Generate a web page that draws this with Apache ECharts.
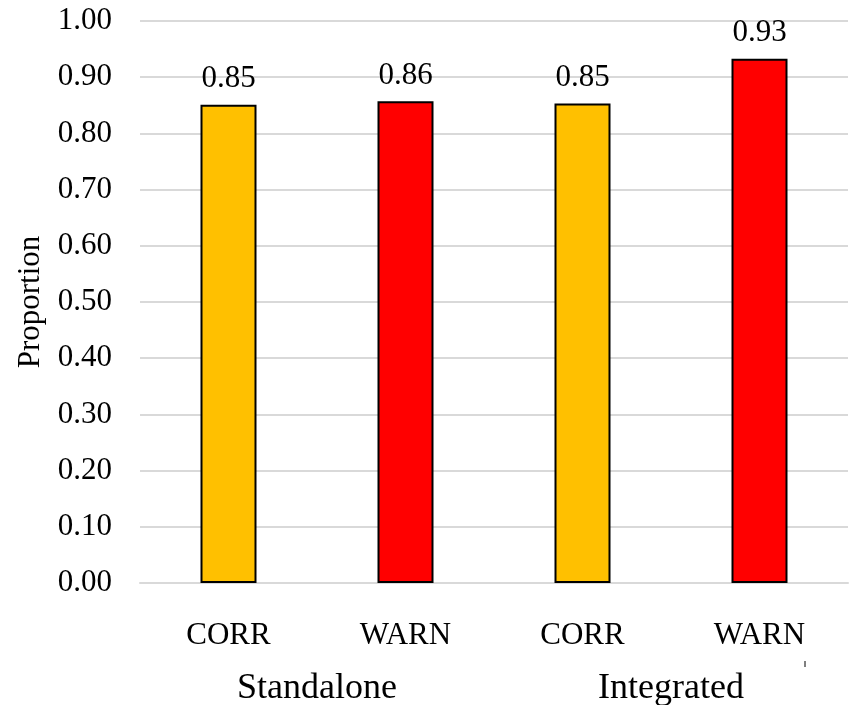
<!DOCTYPE html>
<html>
<head>
<meta charset="utf-8">
<script src="https://cdn.jsdelivr.net/npm/echarts@6/dist/echarts.min.js"></script>
<style>html,body{margin:0;padding:0;background:#fff}#c{width:852px;height:705px}</style>
</head>
<body>
<div id="c"></div>
<script>
const categories = ['CORR', 'WARN', 'CORR', 'WARN'];
const groups = ['Standalone', 'Integrated'];
const values = [0.851, 0.857, 0.853, 0.933];
const yTicks = [0, 0.1, 0.2, 0.3, 0.4, 0.5, 0.6, 0.7, 0.8, 0.9, 1.0];

const FONT = '"Liberation Serif", "Times New Roman", serif';
const colorFor = { CORR: '#FFC000', WARN: '#FF0000' };

const chart = echarts.init(document.getElementById('c'));
chart.setOption({
  animation: false,
  textStyle: { fontFamily: FONT, color: '#000' },
  grid: { left: 140, right: 4, top: 21, bottom: 122, containLabel: false, outerBoundsMode: 'none' },
  xAxis: [
    {
      type: 'category',
      data: categories,
      position: 'bottom',
      axisLine: { show: true, lineStyle: { color: '#d9d9d9', width: 2 } },
      axisTick: { show: false },
      axisLabel: { fontFamily: FONT, fontSize: 31, color: '#000', margin: 37 }
    },
    {
      type: 'category',
      data: groups,
      position: 'bottom',
      offset: 80,
      axisLine: { show: false },
      axisTick: { show: false },
      axisLabel: { fontFamily: FONT, fontSize: 36, color: '#000', margin: 8 }
    }
  ],
  yAxis: {
    type: 'value',
    min: yTicks[0],
    max: yTicks[yTicks.length - 1],
    interval: 0.1,
    name: 'Proportion',
    nameLocation: 'middle',
    nameGap: 92,
    nameRotate: 90,
    nameTextStyle: { fontFamily: FONT, fontSize: 31, color: '#000' },
    axisLine: { show: false },
    axisTick: { show: false },
    splitLine: { lineStyle: { color: '#d9d9d9', width: 2 } },
    axisLabel: {
      fontFamily: FONT, fontSize: 31, color: '#000', margin: 28,
      formatter: v => v.toFixed(2)
    }
  },
  series: [{
    type: 'bar',
    xAxisIndex: 0,
    barWidth: 56,
    data: values.map((v, i) => ({
      value: v,
      itemStyle: { color: colorFor[categories[i]], borderColor: '#000', borderWidth: 2 }
    })),
    label: {
      show: true,
      position: 'top',
      distance: 10,
      fontFamily: FONT,
      fontSize: 31,
      color: '#000',
      formatter: p => p.value.toFixed(2)
    }
  }],
  graphic: [{
    type: 'line',
    shape: { x1: 805, y1: 661, x2: 805, y2: 667 },
    style: { stroke: '#000', lineWidth: 1 }
  }]
});
</script>
</body>
</html>
